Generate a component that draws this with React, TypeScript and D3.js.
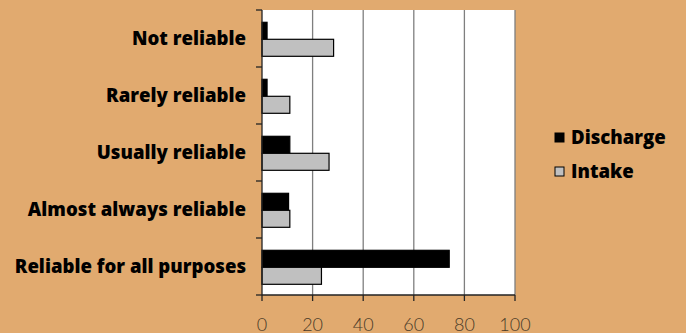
import React from "react";
import * as d3 from "d3";

const categories = [
  "Not reliable",
  "Rarely reliable",
  "Usually reliable",
  "Almost always reliable",
  "Reliable for all purposes",
];
const discharge = [2, 2, 11, 10.5, 74];
const intake = [28.3, 11, 26.5, 11, 23.5];
const seriesNames = ["Discharge", "Intake"];
const xTicks = [0, 20, 40, 60, 80, 100];

const W = 686;
const H = 333;
const plot = { left: 262, right: 515, top: 10, bottom: 295 };
const BG = "#E1AA6F";
const colors = ["#000000", "#C0C0C0"];
const labelFont = "'Open Sans', Lato, sans-serif";

export default function App() {
  const x = d3.scaleLinear().domain([0, 100]).range([plot.left, plot.right]);
  const y = d3
    .scaleBand<string>()
    .domain(categories)
    .range([plot.top, plot.bottom])
    .paddingInner(0)
    .paddingOuter(0);
  const band = y.bandwidth();
  const barH = 17;
  const groupOff = (band - 2 * barH) / 2 + 0.8;
  const series = [discharge, intake];

  return (
    <svg width={W} height={H} style={{ position: "absolute", left: 0, top: 0, display: "block" }}>
      <rect x={0} y={0} width={W} height={H} fill={BG} />
      <rect x={plot.left} y={plot.top} width={plot.right - plot.left} height={plot.bottom - plot.top} fill="#fff" />
      {xTicks.slice(1).map((t) => (
        <line key={"g" + t} x1={x(t)} x2={x(t)} y1={plot.top} y2={plot.bottom} stroke="#7f7f7f" strokeWidth={1.3} />
      ))}
      {series.map((vals, si) =>
        vals.map((v, i) => (
          <rect
            key={si + "-" + i}
            x={x(0)}
            y={(y(categories[i]) as number) + groupOff + si * barH}
            width={x(v) - x(0)}
            height={barH}
            fill={colors[si]}
            stroke="#000"
            strokeWidth={1.2}
          />
        ))
      )}
      <line x1={plot.left} x2={plot.left} y1={plot.top} y2={plot.bottom} stroke="#222" strokeWidth={1.3} />
      <line x1={plot.left} x2={plot.right} y1={plot.bottom} y2={plot.bottom} stroke="#222" strokeWidth={1.3} />
      {d3.range(categories.length + 1).map((i) => {
        const yy = plot.top + i * band;
        return <line key={"yt" + i} x1={plot.left - 6} x2={plot.left} y1={yy} y2={yy} stroke="#222" strokeWidth={1.3} />;
      })}
      {xTicks.map((t) => (
        <g key={"xt" + t}>
          <line x1={x(t)} x2={x(t)} y1={plot.bottom} y2={plot.bottom + 6} stroke="#222" strokeWidth={1.3} />
          <text
            x={x(t)}
            y={331}
            textAnchor="middle"
            fontFamily="Lato, 'DejaVu Sans', sans-serif"
            fontWeight={300}
            fontSize={18}
            fill="#4a3a28"
          >
            {t}
          </text>
        </g>
      ))}
      {categories.map((c) => (
        <text
          key={c}
          x={246}
          y={(y(c) as number) + band / 2 + 6.5}
          textAnchor="end"
          fontFamily={labelFont}
          fontWeight={800}
          fontSize={18.6}
          fill="#000"
        >
          {c}
        </text>
      ))}
      {seriesNames.map((s, i) => (
        <g key={s}>
          <rect x={555} y={133 + i * 34} width={9} height={9} fill={colors[i]} stroke="#000" strokeWidth={1} />
          <text x={571} y={143.5 + i * 34} fontFamily={labelFont} fontWeight={800} fontSize={18.6} fill="#000">
            {s}
          </text>
        </g>
      ))}
    </svg>
  );
}
